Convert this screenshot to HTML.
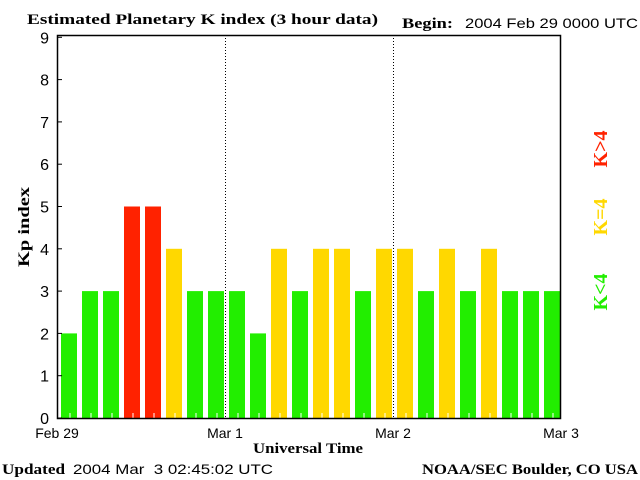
<!DOCTYPE html>
<html><head><meta charset="utf-8"><style>
html,body{margin:0;padding:0;background:#fff;}
svg{display:block;}
.serif{font-family:"Liberation Serif",serif;font-weight:bold;}
.sans{font-family:"Liberation Sans",sans-serif;}
</style></head><body>
<svg id="chart" width="640" height="480" xmlns="http://www.w3.org/2000/svg">
<text x="27" y="24" class="serif" font-size="15" textLength="351" lengthAdjust="spacingAndGlyphs">Estimated Planetary K index (3 hour data)</text>
<text x="402" y="28" class="serif" font-size="15" textLength="51" lengthAdjust="spacingAndGlyphs">Begin:</text>
<text x="465" y="28" class="sans" font-size="14" textLength="173" lengthAdjust="spacingAndGlyphs">2004 Feb 29 0000 UTC</text>
<text x="2" y="474" class="serif" font-size="15" textLength="63" lengthAdjust="spacingAndGlyphs">Updated</text>
<text x="73" y="474" class="sans" font-size="14" textLength="200" lengthAdjust="spacingAndGlyphs" xml:space="preserve">2004 Mar  3 02:45:02 UTC</text>
<text x="422" y="474" class="serif" font-size="15" textLength="216" lengthAdjust="spacingAndGlyphs">NOAA/SEC Boulder, CO USA</text>
<text x="253" y="453" class="serif" font-size="15" textLength="110" lengthAdjust="spacingAndGlyphs">Universal Time</text>
<text transform="translate(29,227) rotate(-90)" text-anchor="middle" class="serif" font-size="16" textLength="80" lengthAdjust="spacingAndGlyphs">Kp index</text>
<text transform="translate(607,149) rotate(-90)" text-anchor="middle" class="serif" font-size="20" fill="#ff2200" textLength="37" lengthAdjust="spacingAndGlyphs">K&gt;4</text>
<text transform="translate(607,217) rotate(-90)" text-anchor="middle" class="serif" font-size="20" fill="#ffd800" textLength="37" lengthAdjust="spacingAndGlyphs">K=4</text>
<text transform="translate(607,292) rotate(-90)" text-anchor="middle" class="serif" font-size="20" fill="#22ee00" textLength="37" lengthAdjust="spacingAndGlyphs">K&lt;4</text>
<g id="bars"></g>
<g id="axes"></g>
</svg>
<script>
const kpValues = [2,3,3,5,5,4,3,3, 3,2,4,3,4,4,3,4, 4,3,4,3,4,3,3,3];
const yTicks = [0,1,2,3,4,5,6,7,8,9];
const dayLabels = ["Feb 29","Mar 1","Mar 2","Mar 3"];
const NS="http://www.w3.org/2000/svg";
const L=57,R=560,T=35,B=418,unit=42.3,slot=21;
const ys=v=>B-v*unit;
const xs=i=>L+i*slot;
function mk(tag,attrs,parent){const e=document.createElementNS(NS,tag);for(const k in attrs)e.setAttribute(k,attrs[k]);parent.appendChild(e);return e;}
const bars=document.getElementById('bars'),axes=document.getElementById('axes');
kpValues.forEach((v,i)=>{
  const c=v>4?'#ff2200':(v==4?'#ffd800':'#22ee00');
  const r=mk('rect',{x:xs(i)+4,y:ys(v),width:16,height:B-ys(v),fill:c},bars);
  
  
  const t=mk('line',{x1:xs(i)+13,x2:xs(i)+13,y1:B,y2:B-5,stroke:'#fff','stroke-width':1},bars);
  
  
});
[1,2].forEach(d=>{
  const l=mk('line',{x1:L+d*168+0.5,x2:L+d*168+0.5,y1:T,y2:B,stroke:'#000','stroke-dasharray':'1,2'},axes);
  
  
});
const frame=mk('rect',{x:L+0.5,y:T+0.5,width:R-L,height:B-T,fill:'none',stroke:'#000','stroke-width':1.5},axes);


yTicks.forEach(v=>{
  const tk=mk('line',{x1:L,x2:L+5,y1:ys(v),y2:ys(v),stroke:'#000'},axes);
  
  
  const tx=mk('text',{x:49,y:ys(v)+6,'text-anchor':'end','font-size':16,'font-family':'Liberation Sans, sans-serif'},axes);
  tx.textContent=v;
  
  
});
dayLabels.forEach((d,i)=>{
  const tx=mk('text',{x:L+i*168,y:438,'text-anchor':'middle','font-size':14,'font-family':'Liberation Sans, sans-serif'},axes);
  tx.textContent=d;
  
  
});
</script>
</body></html>
